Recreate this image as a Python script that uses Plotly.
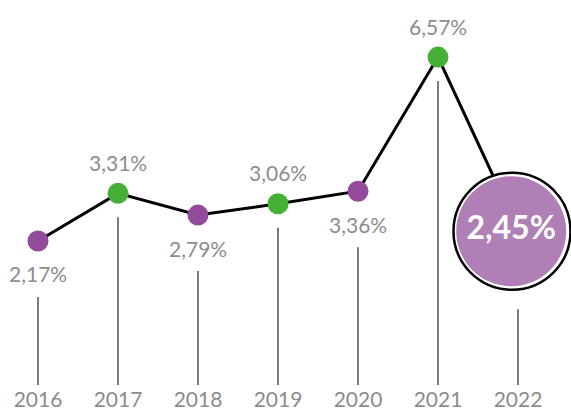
import plotly.graph_objects as go

years = ["2016", "2017", "2018", "2019", "2020", "2021", "2022"]
values = [2.17, 3.31, 2.79, 3.06, 3.36, 6.57, 2.45]
labels = ["2,17%", "3,31%", "2,79%", "3,06%", "3,36%", "6,57%", "2,45%"]
label_above = [False, True, False, True, False, True, None]
point_colors = ["#934A9B", "#46B036", "#934A9B", "#46B036", "#934A9B", "#46B036", "#B07FB6"]

PX_PER_UNIT = 41.8          # vertical scale (pixels per percentage point)
Y_TOP, Y_BOTTOM = 7.935, -1.275
idx = list(range(len(years)))

fig = go.Figure()

# thin vertical drop lines (start below the label / below the marker)
for i, v in enumerate(values):
    if label_above[i] is None:
        gap = 80
    elif label_above[i]:
        gap = 24
    else:
        gap = 56
    top = v - gap / PX_PER_UNIT
    fig.add_shape(type="line", x0=i, x1=i, y0=Y_BOTTOM, y1=top,
                  xref="x", yref="y", line=dict(color="#222222", width=1.2), layer="below")

# main line
fig.add_trace(go.Scatter(x=idx, y=values, mode="lines",
                         line=dict(color="black", width=3), hoverinfo="skip"))
# small markers
fig.add_trace(go.Scatter(x=idx[:-1], y=values[:-1], mode="markers",
                         marker=dict(size=21, color=point_colors[:-1], line=dict(width=0)),
                         hoverinfo="skip"))
# highlighted last value
cx = idx[-1] - 0.075
cy = values[-1] - 2 / PX_PER_UNIT
fig.add_trace(go.Scatter(x=[cx], y=[cy], mode="markers",
                         marker=dict(size=117, color="white", line=dict(color="black", width=2.5)),
                         hoverinfo="skip"))
fig.add_trace(go.Scatter(x=[cx - 0.01], y=[cy], mode="markers+text",
                         marker=dict(size=110, color=point_colors[-1], line=dict(width=0)),
                         text=["<b>" + labels[-1] + "</b>"], textposition="middle center",
                         textfont=dict(family="Lato", size=32, color="white"),
                         hoverinfo="skip"))

# value labels
for i, v in enumerate(values[:-1]):
    fig.add_annotation(x=i, y=v, text=labels[i], showarrow=False,
                       yshift=31 if label_above[i] else -33,
                       font=dict(family="Lato", size=21, color="#8C8C8C"))

fig.update_layout(
    width=571, height=414,
    margin=dict(l=0, r=0, t=0, b=29, autoexpand=False),
    paper_bgcolor="white", plot_bgcolor="white",
    showlegend=False,
    xaxis=dict(range=[-0.475, 6.6625], tickmode="array", tickvals=idx, ticktext=years,
               showgrid=False, zeroline=False, showline=False, automargin=False,
               ticks="", tickfont=dict(family="Lato", size=21, color="#8C8C8C")),
    yaxis=dict(range=[Y_BOTTOM, Y_TOP], visible=False, automargin=False),
)

fig.write_html("out.html", config={"displayModeBar": False},
               post_script="document.body.style.margin='0';document.body.style.padding='0';")
